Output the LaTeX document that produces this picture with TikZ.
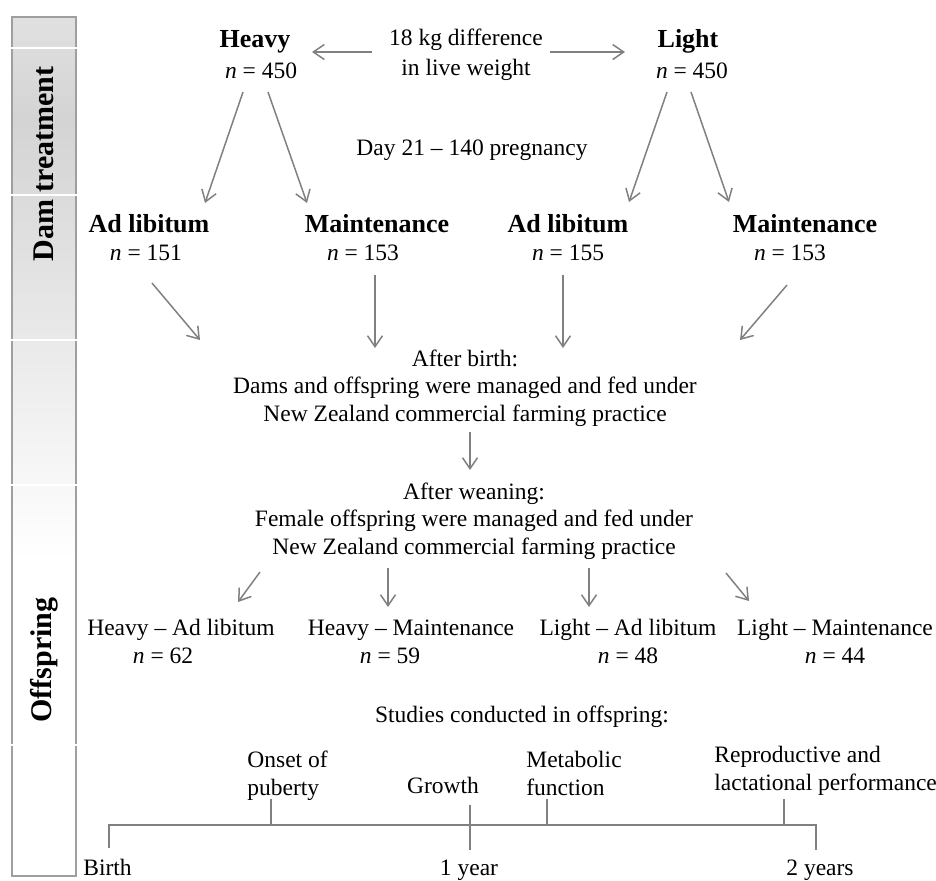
\documentclass[tikz,border=0pt]{standalone}
\usepackage{fontspec}
\setmainfont{Liberation Serif}
\usetikzlibrary{arrows.meta}

\newcommand{\headtext}[1]{{\fontsize{13}{15}\selectfont\bfseries #1}}

\begin{document}
\begin{tikzpicture}[x=0.5pt,y=-0.5pt,
        font=\fontsize{11.75}{13.75}\selectfont,
        txtNode/.style = {align=center,anchor=base,inner sep=0pt},
        leftNode/.style = {align=left,anchor=base west,inner sep=0pt},
        sideLabel/.style = {rotate=90,inner sep=0pt,font=\fontsize{15}{16}\selectfont\bfseries}, % column titles
        arrowLine/.style = {draw=gray,line width=0.75pt,-{Straight Barb[length=5.5pt,width=7.5pt]}},
        timeLine/.style = {draw=gray,line width=1pt}
        ]
        \useasboundingbox (0,0) rectangle (936,880);
        % side column
        \shade[top color=gray!24,bottom color=gray!34] (12,17) rectangle (76,120);
        \shade[top color=gray!34,bottom color=white] (12,120) rectangle (76,560);
        \draw[draw=gray!75,line width=1.2pt] (12,17) rectangle (76,876);
        \foreach \yy in {48,195,340,485,745}
            \draw[white,line width=0.8pt] (10,\yy) -- (78,\yy);
        \node[sideLabel] (dam) at (44,164) {Dam treatment};
        \node[sideLabel] (off) at (44,660) {Offspring};

        % dam groups (base = last line)
        \node[txtNode] (heavy) at (255,78) {\headtext{Heavy}\\[1.5pt]\kern6pt\textit{n} = 450};
        \node[txtNode] (diff) at (466,75) {18 kg difference\\[1.2pt]in live weight};
        \node[txtNode] (light) at (688,78) {\headtext{Light}\\[1.5pt]\kern4pt\textit{n} = 450};
        \node[txtNode] (day) at (472,155) {Day 21 – 140 pregnancy};
        \node[txtNode] (hal) at (149,260) {\headtext{Ad libitum}\\\textit{n} = 151\kern3pt};
        \node[txtNode] (hm) at (377,260) {\headtext{Maintenance}\\\textit{n} = 153\kern14pt};
        \node[txtNode] (lal) at (568,260) {\headtext{Ad libitum}\\\textit{n} = 155};
        \node[txtNode] (lm) at (805,260) {\headtext{Maintenance}\\\textit{n} = 153\kern15pt};

        \draw[arrowLine] ([shift={(-94,-23)}]diff.base) -- ([shift={(57,-26)}]heavy.base);
        \draw[arrowLine] ([shift={(84,-23)}]diff.base) -- ([shift={(-63,-26)}]light.base);
        \draw[arrowLine] ([shift={(-12,14)}]heavy.base) -- ([shift={(56,-57)}]hal.base);
        \draw[arrowLine] ([shift={(13,14)}]heavy.base) -- ([shift={(-70,-57)}]hm.base);
        \draw[arrowLine] ([shift={(-21,14)}]light.base) -- ([shift={(61,-58)}]lal.base);
        \draw[arrowLine] ([shift={(3,14)}]light.base) -- ([shift={(-76,-58)}]lm.base);

        % after birth and weaning
        \node[txtNode] (birth) at (465,421) {After birth:\\Dams and offspring were managed and fed under\\New Zealand commercial farming practice};
        \node[txtNode] (wean) at (474,554) {After weaning:\\Female offspring were managed and fed under\\New Zealand commercial farming practice};

        \draw[arrowLine] ([shift={(3,23)}]hal.base) -- ([shift={(-265,-81)}]birth.base);
        \draw[arrowLine] ([shift={(-2,15)}]hm.base) -- ([shift={(-90,-73)}]birth.base);
        \draw[arrowLine] ([shift={(-5,15)}]lal.base) -- ([shift={(98,-73)}]birth.base);
        \draw[arrowLine] ([shift={(-18,25)}]lm.base) -- ([shift={(275,-81)}]birth.base);
        \draw[arrowLine] ([shift={(5,11)}]birth.base) -- ([shift={(-4,-84)}]wean.base);

        % offspring groups
        \node[txtNode] (ohal) at (181,663) {Heavy – Ad libitum\\\textit{n} = 62\kern18pt};
        \node[txtNode] (ohm) at (411,663) {Heavy – Maintenance\\\textit{n} = 59\kern21pt};
        \node[txtNode] (olal) at (628,663) {Light – Ad libitum\\\textit{n} = 48};
        \node[txtNode] (olm) at (835,663) {Light – Maintenance\\\textit{n} = 44};

        \draw[arrowLine] ([shift={(-214,18)}]wean.base) -- ([shift={(57,-61)}]ohal.base);
        \draw[arrowLine] ([shift={(-86,14)}]wean.base) -- ([shift={(-23,-56)}]ohm.base);
        \draw[arrowLine] ([shift={(115,14)}]wean.base) -- ([shift={(-39,-56)}]olal.base);
        \draw[arrowLine] ([shift={(252,19)}]wean.base) -- ([shift={(-86,-62)}]olm.base);

        % studies and time line
        \node[txtNode] (studies) at (522,722) {Studies conducted in offspring:};
        \node[leftNode] (onset) at (247,795) {Onset of\\puberty};
        \node[txtNode] (growth) at (443,793) {Growth};
        \node[leftNode] (metab) at (526,795) {Metabolic\\function};
        \node[leftNode] (repro) at (714,790) {Reproductive and\\lactational performance};
        \node[leftNode] (tbirth) at (83,875) {Birth};
        \node[txtNode] (tyear) at (469,875) {1 year};
        \node[txtNode] (ttwo) at (820,875) {2 years};

        \coordinate (t0) at (109,825);
        \coordinate (t2) at (816,825);
        \coordinate (t0b) at (109,848);
        \coordinate (t2b) at (816,850);
        \coordinate (t1a) at (470,805);
        \coordinate (t1b) at (470,850);
        \draw[timeLine] (t0b) -- (t0) -- (t2) -- (t2b);
        \draw[timeLine] (t1a) -- (t1b);
        \foreach \xx in {271,547,784}
            \draw[timeLine] (\xx,799) -- (\xx,825);
    \end{tikzpicture}
\end{document}
